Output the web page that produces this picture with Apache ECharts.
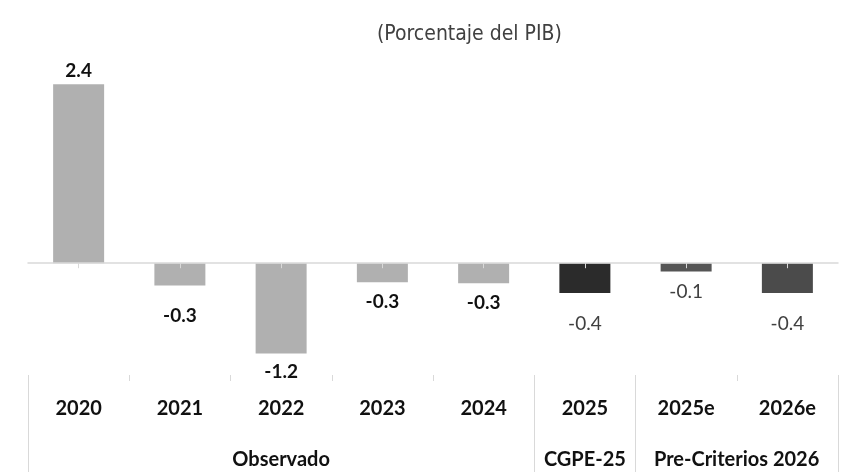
<!DOCTYPE html>
<html>
<head>
<meta charset="utf-8">
<script src="https://cdn.jsdelivr.net/npm/echarts@6/dist/echarts.min.js"></script>
<style>
  html, body { margin: 0; padding: 0; background: #fff; }
  #chart { width: 841px; height: 472px; }
</style>
</head>
<body>
<div id="chart"></div>
<script>
// datos
const years = ['2020', '2021', '2022', '2023', '2024', '2025', '2025e', '2026e'];
const values = [2.4, -0.3, -1.21, -0.255, -0.27, -0.4, -0.11, -0.4];
const groups = [
  { name: 'Observado', span: 5 },
  { name: 'CGPE-25', span: 1 },
  { name: 'Pre-Criterios 2026', span: 2 }
];

// estilo por barra
const barColors = ['#b0b0b0', '#b0b0b0', '#b0b0b0', '#b0b0b0', '#b0b0b0', '#2b2b2b', '#555555', '#4b4b4b'];
const labelGap = [4, 21, 9, 10, 10, 21, 11, 21];
const projected = [false, false, false, false, false, true, true, true];

// etiquetas de grupo y separadores
const groupLabels = years.map(() => '');
const groupStarts = [];
const groupHalf = [];
let pos = 0;
groups.forEach(g => {
  groupStarts.push(pos);
  const mid = Math.floor((g.span - 1) / 2);
  groupLabels[pos + mid] = g.name;
  groupHalf[pos + mid] = g.span % 2 === 0;
  pos += g.span;
});

const seriesData = values.map((v, i) => ({
  value: v,
  itemStyle: { color: barColors[i] },
  label: {
    position: v >= 0 ? 'top' : 'bottom',
    distance: labelGap[i],
    fontWeight: projected[i] ? 'normal' : 'bold',
    color: projected[i] ? '#404040' : '#111111'
  }
}));

const myChart = echarts.init(document.getElementById('chart'));
myChart.setOption({
  animation: false,
  title: {
    text: '(Porcentaje del PIB)',
    left: 372,
    top: 19,
    textStyle: {
      fontFamily: 'DejaVu Sans Condensed, Liberation Sans Narrow, Noto Sans, sans-serif',
      fontSize: 21,
      fontWeight: 'normal',
      color: '#404040'
    }
  },
  grid: { left: 28, right: 3, top: 62, bottom: 97 },
  yAxis: {
    type: 'value',
    min: -1.5,
    max: 2.7,
    show: false
  },
  xAxis: [
    {
      // linea del cero
      type: 'category',
      data: years,
      z: 10,
      axisLine: { show: true, onZero: true, lineStyle: { color: '#d9d9d9', width: 1.5 } },
      axisTick: { show: true, alignWithLabel: true, length: 5, lineStyle: { color: '#d9d9d9' } },
      axisLabel: { show: false }
    },
    {
      // años
      type: 'category',
      data: years,
      position: 'bottom',
      axisLine: { show: false, onZero: false },
      axisTick: { show: true, length: 6, lineStyle: { color: '#d9d9d9' } },
      axisLabel: {
        margin: 24,
        fontFamily: 'Lato',
        fontWeight: 'bold',
        fontSize: 20,
        color: '#111111'
      }
    },
    {
      // grupos
      type: 'category',
      data: groupLabels,
      position: 'bottom',
      axisLine: { show: false, onZero: false },
      axisTick: {
        show: true,
        length: 97,
        interval: (idx) => groupStarts.indexOf(idx) >= 0,
        lineStyle: { color: '#d9d9d9' }
      },
      axisLabel: {
        margin: 75,
        interval: (idx, val) => val !== '',
        formatter: (val, idx) => groupHalf[idx] ? '{s|' + val + '}' : '{n|' + val + '}',
        rich: {
          n: { fontFamily: 'Lato', fontWeight: 'bold', fontSize: 20, color: '#111111' },
          s: { fontFamily: 'Lato', fontWeight: 'bold', fontSize: 20, color: '#111111', padding: [0, 0, 0, 101] }
        }
      }
    }
  ],
  series: [
    {
      type: 'bar',
      xAxisIndex: 0,
      data: seriesData,
      barWidth: 51,
      label: {
        show: true,
        fontFamily: 'Lato',
        fontSize: 19,
        formatter: p => p.value.toFixed(1)
      }
    }
  ]
});
</script>
</body>
</html>
